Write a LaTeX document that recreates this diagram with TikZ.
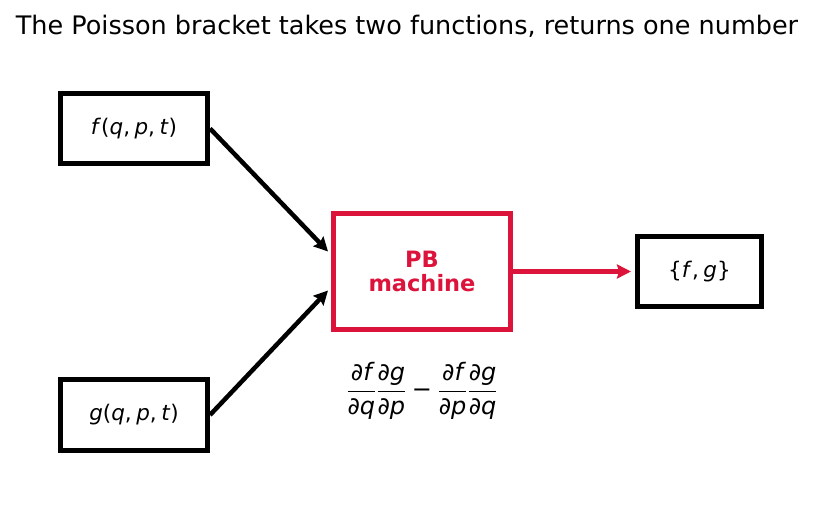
\documentclass[tikz,border=0pt]{standalone}
\usepackage{amsmath}
\usepackage{fontspec}
\setmainfont{DejaVu Sans}
\usetikzlibrary{arrows.meta}
\definecolor{pbred}{RGB}{220,20,60}
\newcommand{\pd}[1]{\text{\itshape ∂#1}}
\newcommand{\cm}{,\hspace{4.5pt}}
\begin{document}
\begin{tikzpicture}[x=1pt,y=1pt,
  box/.style={draw=black,line width=5pt,inner sep=0pt,font=\fontsize{21.5}{25}\selectfont},
  pbbox/.style={draw=pbred,line width=5pt,inner sep=0pt,text=pbred,align=center,font=\fontsize{22.5}{27}\selectfont\bfseries},
  arr/.style={line width=4.5pt,-{Stealth[length=14pt,width=14pt,inset=2pt]}},
  lbl/.style={inner sep=0pt,font=\fontsize{24}{28}\selectfont}]
\useasboundingbox (0,0) rectangle (814,512);
\node[inner sep=0pt,font=\fontsize{25.5}{30}\selectfont] (title) at (407,486) {The Poisson bracket takes two functions, returns one number};
\node[box,minimum width=147pt,minimum height=70.5pt] (f) at (134,383.5) {\textit{f}(\textit{q}\cm\textit{p}\cm\textit{t})};
\node[box,minimum width=147pt,minimum height=71pt] (g) at (134,97) {\textit{g}(\textit{q}\cm\textit{p}\cm\textit{t})};
\node[pbbox,minimum width=177pt,minimum height=116pt] (pb) at (422,240.5) {PB\\[-3pt]machine};
\node[box,minimum width=124pt,minimum height=70pt] (out) at (699.5,240.5) {\{\textit{f}\cm\textit{g}\}};
\node[lbl] (formula) at (422,121) {$\dfrac{\pd{f}}{\pd{q}}\dfrac{\pd{g}}{\pd{p}}\mathbin{\text{−}}\dfrac{\pd{f}}{\pd{p}}\dfrac{\pd{g}}{\pd{q}}$};
\coordinate (pbin1) at ([xshift=-3pt,yshift=20pt]pb.west);
\coordinate (pbin2) at ([xshift=-3pt,yshift=-19pt]pb.west);
\draw[arr] (f.east) -- (pbin1);
\draw[arr] (g.east) -- (pbin2);
\draw[arr,draw=pbred,fill=pbred,shorten >=4pt] (pb.east) -- (out.west);
\end{tikzpicture}
\end{document}
